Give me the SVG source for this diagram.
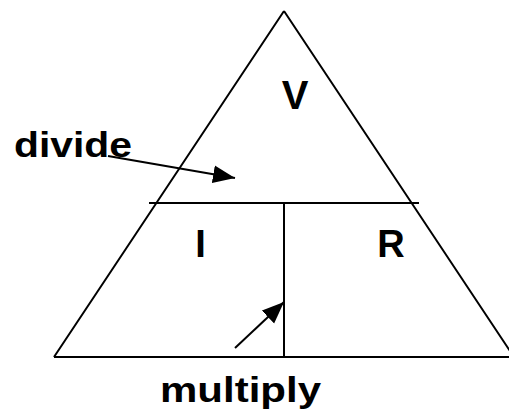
<svg xmlns="http://www.w3.org/2000/svg" width="509" height="412" viewBox="0 0 509 412">
<style>
.ln{stroke:#000;stroke-width:2;fill:none}
.t{font-family:"Liberation Sans",Arial,sans-serif;font-weight:bold;fill:#000}
</style>
<defs>
<marker id="ah" markerUnits="userSpaceOnUse" markerWidth="24" markerHeight="20" refX="22" refY="9" orient="auto">
<path d="M0,0 L22,9 L0,18 Z" fill="#000"/>
</marker>
</defs>
<rect width="509" height="412" fill="#fff"/>
<g id="triangle">
<path class="ln" d="M284,11 L54,357 M284,11 L514,357"/>
<line class="ln" x1="54" y1="357" x2="509" y2="357"/>
<line class="ln" x1="149" y1="203" x2="419" y2="203"/>
<line class="ln" x1="284" y1="203" x2="284" y2="357"/>
</g>
<g id="V"><text class="t" x="295" y="109" font-size="40" text-anchor="middle">V</text></g>
<g id="I"><text class="t" x="200.5" y="257" font-size="38" text-anchor="middle">I</text></g>
<g id="R"><text class="t" x="391" y="257" font-size="38" text-anchor="middle">R</text></g>
<g id="divide"><text class="t" x="14" y="157" font-size="35" textLength="118" lengthAdjust="spacingAndGlyphs">divide</text></g>
<g id="multiply"><text class="t" x="160" y="402" font-size="35" textLength="161" lengthAdjust="spacingAndGlyphs">multiply</text></g>
<g id="connectors">
<line class="ln" x1="108" y1="156" x2="235" y2="178" marker-end="url(#ah)"/>
<line class="ln" x1="235" y1="348" x2="284" y2="302" marker-end="url(#ah)"/>
</g>
</svg>
